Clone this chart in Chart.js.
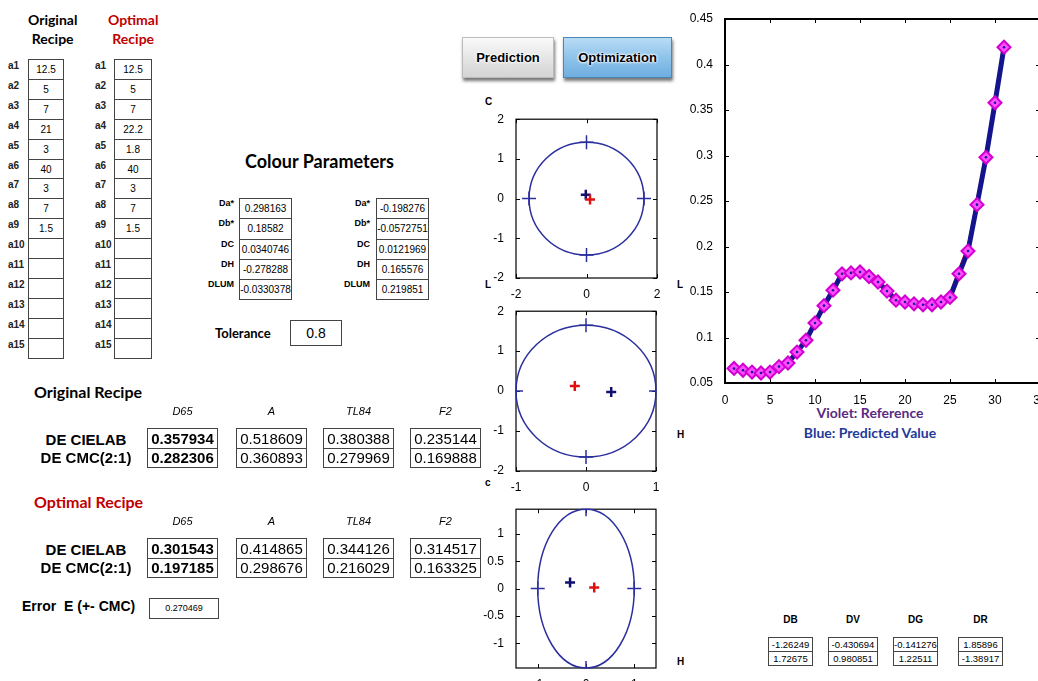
<!DOCTYPE html>
<html>
<head>
<meta charset="utf-8">
<script src="https://cdn.jsdelivr.net/npm/chart.js@4.4.1/dist/chart.umd.min.js"></script>
<style>
  html, body { margin: 0; padding: 0; background: #fff; }
  body { width: 1038px; height: 681px; overflow: hidden; position: relative; font-family: "Liberation Sans", Arial, sans-serif; color: #000; }
  .t { position: absolute; white-space: nowrap; }
  .hd { font-family: Lato, "Open Sans", sans-serif; font-weight: bold; }
  .cell { position: absolute; box-sizing: border-box; border: 1px solid #444; background: #fff; text-align: center; }
  .btn { position: absolute; box-sizing: border-box; text-align: center; font-weight: bold; font-size: 13px; line-height: 40px; text-shadow: 0 0 3px #fff, 0 0 3px #fff, 0 0 2px #fff; box-shadow: 1px 3px 3px #777; }
  canvas { position: absolute; }
</style>
</head>
<body>

<div class="btn" style="left:462px;top:37px;width:92px;height:41px;border:1px solid #bbb;background:linear-gradient(180deg,#fafafa 0%,#e6e6e6 50%,#d4d4d4 100%);">Prediction</div>
<div class="btn" style="left:563px;top:37px;width:109px;height:41px;border:1px solid #4a86b8;background:linear-gradient(180deg,#b9dcf5 0%,#8fc3ea 50%,#6eaee0 100%);">Optimization</div>

<div class="t hd" style="left:28px;top:10px;font-size:14px;line-height:19px;text-align:center;">Original<br>Recipe</div>
<div class="t hd" style="left:108px;top:10px;font-size:14px;line-height:19px;text-align:center;color:#c00000;">Optimal<br>Recipe</div>

<div class="t hd" style="left:245px;top:150px;font-size:18px;">Colour Parameters</div>
<div class="t hd" style="left:215px;top:325px;font-size:13px;">Tolerance</div>
<div class="cell" style="left:290px;top:320px;width:52px;height:26px;font-size:14px;line-height:24px;">0.8</div>

<div class="t hd" style="left:34px;top:382px;font-size:16px;">Original Recipe</div>
<div class="t hd" style="left:34px;top:492px;font-size:16px;color:#c00000;">Optimal Recipe</div>
<div class="t" style="left:22px;top:598px;font-size:14px;font-weight:bold;">Error&nbsp; E (+- CMC)</div>
<div class="cell" style="left:149px;top:598px;width:70px;height:21px;font-size:9px;line-height:19px;">0.270469</div>

<div class="t hd" style="left:800px;top:404px;width:140px;text-align:center;font-size:14px;color:#5a2a84;">Violet: Reference</div>
<div class="t hd" style="left:800px;top:424px;width:140px;text-align:center;font-size:14px;color:#1f3a99;">Blue: Predicted Value</div>

<div class="t" style="left:485px;top:96px;font-size:10px;font-weight:bold;">C</div>
<div class="t" style="left:485px;top:279px;font-size:10px;font-weight:bold;">L</div>
<div class="t" style="left:677px;top:279px;font-size:10px;font-weight:bold;">L</div>
<div class="t" style="left:677px;top:429px;font-size:10px;font-weight:bold;">H</div>
<div class="t" style="left:485px;top:477px;font-size:10px;font-weight:bold;">c</div>
<div class="t" style="left:677px;top:656px;font-size:10px;font-weight:bold;">H</div>

<canvas id="spectrum" width="370" height="400" style="left:680px;top:4px;"></canvas>
<canvas id="cl" width="191" height="190" style="left:476px;top:108px;"></canvas>
<canvas id="lh" width="190" height="191" style="left:476px;top:300px;"></canvas>
<canvas id="ch" width="190" height="190" style="left:476px;top:498px;"></canvas>

<script>
// recipe tables
const recipeLabels = ['a1', 'a2', 'a3', 'a4', 'a5', 'a6', 'a7', 'a8', 'a9', 'a10', 'a11', 'a12', 'a13', 'a14', 'a15']
const originalRecipe = ['12.5', '5', '7', '21', '3', '40', '3', '7', '1.5', '', '', '', '', '', '']
const optimalRecipe = ['12.5', '5', '7', '22.2', '1.8', '40', '3', '7', '1.5', '', '', '', '', '', '']

// colour parameters
const paramLabels = ['Da*', 'Db*', 'DC', 'DH', 'DLUM']
const paramsLeft = ['0.298163', '0.18582', '0.0340746', '-0.278288', '-0.0330378']
const paramsRight = ['-0.198276', '-0.0572751', '0.0121969', '0.165576', '0.219851']

// colour differences
const illuminants = ['D65', 'A', 'TL84', 'F2']
const originalCielab = ['0.357934', '0.518609', '0.380388', '0.235144']
const originalCmc = ['0.282306', '0.360893', '0.279969', '0.169888']
const optimalCielab = ['0.301543', '0.414865', '0.344126', '0.314517']
const optimalCmc = ['0.197185', '0.298676', '0.216029', '0.163325']

const rgbLabels = ['DB', 'DV', 'DG', 'DR']
const rgbRow1 = ['-1.26249', '-0.430694', '-0.141276', '1.85896']
const rgbRow2 = ['1.72675', '0.980851', '1.22511', '-1.38917']

// reflectance curve
const samples = [1, 2, 3, 4, 5, 6, 7, 8, 9, 10, 11, 12, 13, 14, 15, 16, 17, 18, 19, 20, 21, 22, 23, 24, 25, 26, 27, 28, 29, 30, 31]
const reference = [0.066, 0.064, 0.062, 0.061, 0.062, 0.068, 0.072, 0.084, 0.097, 0.116, 0.135, 0.152, 0.170, 0.171, 0.172, 0.167, 0.161, 0.151, 0.141, 0.139, 0.137, 0.136, 0.136, 0.139, 0.144, 0.170, 0.195, 0.246, 0.298, 0.358, 0.419]
const predicted = [0.066, 0.064, 0.062, 0.061, 0.062, 0.068, 0.072, 0.084, 0.097, 0.116, 0.135, 0.152, 0.170, 0.171, 0.172, 0.167, 0.161, 0.151, 0.141, 0.139, 0.137, 0.136, 0.136, 0.139, 0.144, 0.170, 0.195, 0.246, 0.298, 0.358, 0.419]
const target = [0.066, 0.064, 0.062, 0.061, 0.062, 0.068, 0.073, 0.085, 0.098, 0.117, 0.136, 0.153, 0.170, 0.171, 0.172, 0.167, 0.161, 0.152, 0.142, 0.139, 0.137, 0.136, 0.136, 0.140, 0.148, 0.175, 0.201, 0.252, 0.302, 0.361, 0.42]

// tolerance ellipses [rx, ry] and sample positions
const ellipseCL = [1.63, 1.42]
const ellipseLH = [1.0, 1.65]
const ellipseCH = [1.0, 1.45]
const blueCL = [{ x: -0.02, y: 0.1 }]
const redCL = [{ x: 0.1, y: -0.02 }]
const blueLH = [{ x: 0.36, y: -0.02 }]
const redLH = [{ x: -0.16, y: 0.13 }]
const blueCH = [{ x: -0.33, y: 0.11 }]
const redCH = [{ x: 0.17, y: 0.02 }]

function text (x, y, str, style) {
  const d = document.createElement('div')
  d.className = 't'
  d.style.left = x + 'px'
  d.style.top = y + 'px'
  d.textContent = str
  Object.assign(d.style, style || {})
  document.body.appendChild(d)
  return d
}

function cell (x, y, w, h, str, style) {
  const d = document.createElement('div')
  d.className = 'cell'
  Object.assign(d.style, { left: x + 'px', top: y + 'px', width: w + 'px', height: h + 'px', lineHeight: (h - 2) + 'px' }, style || {})
  d.textContent = str
  document.body.appendChild(d)
}

// recipe columns
recipeLabels.forEach((lab, i) => {
  const y = 59 + i * 19.9
  text(8, y + 1, lab, { fontSize: '10px', fontWeight: 'bold', color: '#222' })
  text(95, y + 1, lab, { fontSize: '10px', fontWeight: 'bold', color: '#222' })
  cell(28, y, 36, 21, originalRecipe[i], { fontSize: '10px' })
  cell(114, y, 38, 21, optimalRecipe[i], { fontSize: '10px' })
})

// colour parameter boxes
paramLabels.forEach((lab, i) => {
  const y = 198 + i * 20.3
  text(200, y, lab, { fontSize: '9px', fontWeight: 'bold', width: '34px', textAlign: 'right' })
  text(336, y, lab, { fontSize: '9px', fontWeight: 'bold', width: '34px', textAlign: 'right' })
  cell(239, y, 53, 21.3, paramsLeft[i], { fontSize: '10px' })
  cell(376, y, 53, 21.3, paramsRight[i], { fontSize: '10px' })
})

// DE tables
const colX = [147, 236, 323, 410]
function deTable (top, cielab, cmc) {
  text(20, top + 3, 'DE CIELAB', { fontSize: '15px', fontWeight: 'bold', width: '132px', textAlign: 'center' })
  text(20, top + 21, 'DE CMC(2:1)', { fontSize: '15px', fontWeight: 'bold', width: '132px', textAlign: 'center' })
  illuminants.forEach((name, i) => {
    text(colX[i], top - 23, name, { fontSize: '11px', fontStyle: 'italic', width: '71px', textAlign: 'center' })
    const bold = i === 0 ? { fontWeight: 'bold' } : {}
    cell(colX[i], top, 71, 21, cielab[i], Object.assign({ fontSize: '15px' }, bold))
    cell(colX[i], top + 20, 71, 20, cmc[i], Object.assign({ fontSize: '15px' }, bold))
  })
}
deTable(428, originalCielab, originalCmc)
deTable(538, optimalCielab, optimalCmc)

// DB/DV/DG/DR table
const rgbX = [768, 828, 893, 958]
const rgbW = [45, 50, 45, 45]
rgbLabels.forEach((lab, i) => {
  text(rgbX[i], 614, lab, { fontSize: '10px', fontWeight: 'bold', width: rgbW[i] + 'px', textAlign: 'center' })
  cell(rgbX[i], 637, rgbW[i], 15, rgbRow1[i], { fontSize: '9.5px' })
  cell(rgbX[i], 651, rgbW[i], 15, rgbRow2[i], { fontSize: '9.5px' })
})

// frame with inward ticks, like the original axes
const frame = {
  id: 'frame',
  beforeDatasetsDraw (chart) {
    const { ctx, chartArea: a, scales } = chart
    const lw = chart.options.plugins.frame.width || 1
    ctx.save()
    ctx.strokeStyle = '#000'
    ctx.lineWidth = lw
    ctx.strokeRect(a.left, a.top, a.right - a.left, a.bottom - a.top)
    ctx.lineWidth = 1
    ctx.beginPath()
    scales.x.ticks.forEach(t => {
      const px = Math.round(scales.x.getPixelForValue(t.value)) + 0.5
      ctx.moveTo(px, a.bottom); ctx.lineTo(px, a.bottom - 4)
      ctx.moveTo(px, a.top); ctx.lineTo(px, a.top + 4)
    })
    scales.y.ticks.forEach(t => {
      const py = Math.round(scales.y.getPixelForValue(t.value)) + 0.5
      ctx.moveTo(a.left, py); ctx.lineTo(a.left + 4, py)
      ctx.moveTo(a.right, py); ctx.lineTo(a.right - 4, py)
    })
    ctx.stroke()
    ctx.restore()
  }
}

// tolerance ellipse drawn through the chart scales
const tolerance = {
  id: 'tolerance',
  beforeDatasetsDraw (chart) {
    const opt = chart.options.plugins.tolerance
    if (!opt || !opt.radii) return
    const { ctx, scales } = chart
    const cx = scales.x.getPixelForValue(0)
    const cy = scales.y.getPixelForValue(0)
    const rx = scales.x.getPixelForValue(opt.radii[0]) - cx
    const ry = cy - scales.y.getPixelForValue(opt.radii[1])
    ctx.save()
    ctx.strokeStyle = '#2b2f9e'
    ctx.lineWidth = 1.5
    ctx.beginPath()
    ctx.ellipse(cx, cy, rx, ry, 0, 0, Math.PI * 2)
    ctx.stroke()
    ctx.restore()
  }
}

Chart.register(frame, tolerance)

const tickFont = { family: '"Liberation Sans", Arial, sans-serif', size: 12 }
// matlab style labels: 0.1 not 0.10
const plain = v => String(Number(v.toFixed(2)))

new Chart(document.getElementById('spectrum'), {
  type: 'line',
  data: {
    datasets: [
      {
        data: samples.map((s, i) => ({ x: s, y: predicted[i] })),
        showLine: false,
        pointStyle: 'circle',
        pointRadius: 1.3,
        pointBackgroundColor: '#1a1a9a',
        pointBorderWidth: 0
      },
      {
        data: samples.map((s, i) => ({ x: s, y: reference[i] })),
        showLine: false,
        pointStyle: 'rectRot',
        pointRadius: 6.5,
        pointBackgroundColor: '#ff4dff',
        pointBorderColor: '#d100d1',
        pointBorderWidth: 2
      },
      {
        data: samples.map((s, i) => ({ x: s, y: predicted[i] })),
        borderColor: '#14148c',
        borderWidth: 5,
        pointRadius: 0,
        tension: 0
      },
      {
        data: samples.map((s, i) => ({ x: s, y: target[i] })),
        borderColor: '#ff1a1a',
        borderWidth: 2,
        pointRadius: 0,
        tension: 0
      }
    ]
  },
  options: {
    responsive: false,
    animation: false,
    layout: { padding: { top: 15, right: 10, left: 0, bottom: 0 } },
    plugins: { legend: { display: false }, tooltip: { enabled: false }, frame: { width: 2 } },
    scales: {
      x: {
        type: 'linear',
        min: 0,
        max: 35,
        ticks: { stepSize: 5, color: '#000', font: tickFont, padding: 2, maxRotation: 0 },
        grid: { display: false },
        border: { display: false },
        afterFit (s) { s.height = 21 }
      },
      y: {
        min: 0.05,
        max: 0.45,
        ticks: { stepSize: 0.05, color: '#000', font: tickFont, padding: 4, callback: plain },
        grid: { display: false },
        border: { display: false },
        afterFit (s) { s.width = 45 }
      }
    }
  }
})

function tolChart (id, radii, xr, yr, blue, red) {
  const marks = [
    { x: radii[0], y: 0 }, { x: -radii[0], y: 0 },
    { x: 0, y: radii[1] }, { x: 0, y: -radii[1] }
  ]
  return new Chart(document.getElementById(id), {
    type: 'scatter',
    data: {
      datasets: [
        { data: red, pointStyle: 'cross', pointRadius: 5, pointBorderWidth: 2.5, pointBorderColor: '#e01010' },
        { data: blue, pointStyle: 'cross', pointRadius: 5, pointBorderWidth: 2.5, pointBorderColor: '#10106e' },
        { data: marks, pointStyle: 'cross', pointRadius: 7, pointBorderWidth: 1.5, pointBorderColor: '#2b2f9e' }
      ]
    },
    options: {
      responsive: false,
      animation: false,
      layout: { padding: { top: 10, right: 10, left: 0, bottom: 0 } },
      plugins: { legend: { display: false }, tooltip: { enabled: false }, frame: { width: 1.2 }, tolerance: { radii } },
      scales: {
        x: {
          type: 'linear',
          min: xr[0],
          max: xr[1],
          ticks: { stepSize: xr[2], includeBounds: false, color: '#000', font: tickFont, padding: 1, maxRotation: 0, callback: plain },
          grid: { display: false },
          border: { display: false },
          afterFit (s) { s.height = 20 }
        },
        y: {
          min: yr[0],
          max: yr[1],
          ticks: { stepSize: yr[2], includeBounds: false, color: '#000', font: tickFont, padding: 4, callback: plain },
          grid: { display: false },
          border: { display: false },
          afterFit (s) { s.width = 40 }
        }
      }
    }
  })
}

tolChart('cl', ellipseCL, [-2, 2, 2], [-2, 2, 1], blueCL, redCL)
tolChart('lh', ellipseLH, [-1, 1, 1], [-2, 2, 1], blueLH, redLH)
tolChart('ch', ellipseCH, [-1.45, 1.45, 1], [-1.45, 1.45, 0.5], blueCH, redCH)
</script>
</body>
</html>
